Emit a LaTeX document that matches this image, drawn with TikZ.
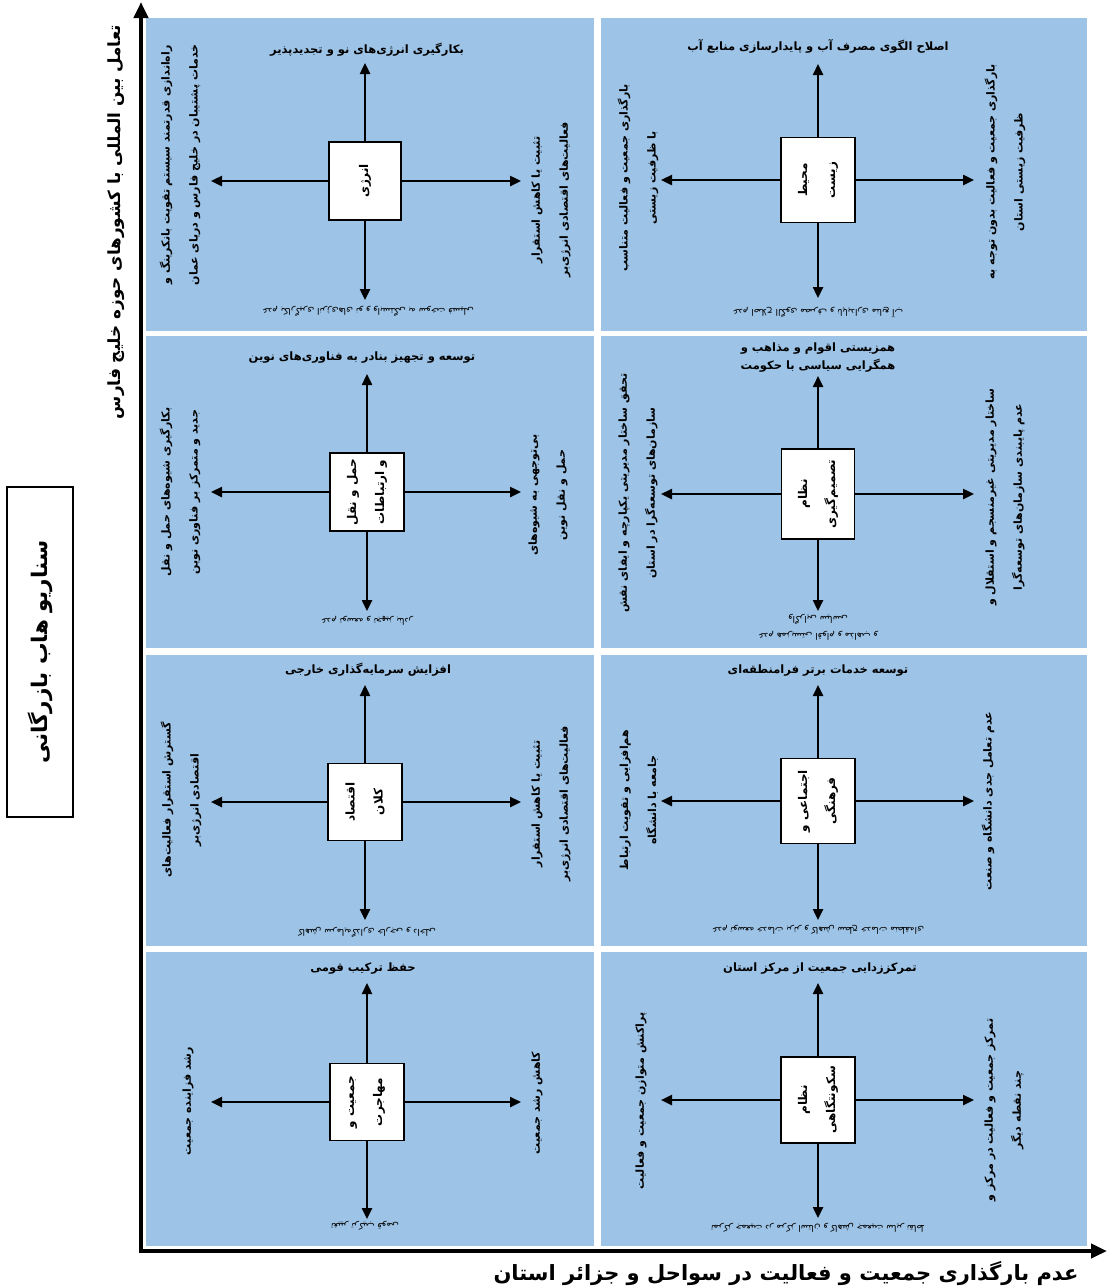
\documentclass[tikz,border=0pt]{standalone}
\usepackage{fontspec}
\usetikzlibrary{arrows.meta}
\newfontfamily\farsi[Script=Arabic]{DejaVu Sans}
\TeXXeTstate=1
\newcommand\fa[1]{\beginR #1\endR}
\definecolor{panelblue}{RGB}{157,195,230}
\tikzset{
 hub/.style={draw, line width=1.8pt, fill=white, rotate=90, inner sep=0pt, align=center, font=\farsi\bfseries\fontsize{12}{28}\selectfont},
 arr/.style={line width=2.4pt, -{Triangle[length=11pt,width=10pt]}},
 axisline/.style={line width=4.5pt, -{Triangle[length=16pt,width=14pt]}},
 toptxt/.style={font=\farsi\bfseries\fontsize{11.5}{18}\selectfont, align=center, inner sep=0pt},
 sidetxt/.style={font=\farsi\bfseries\fontsize{11}{28}\selectfont, align=center, rotate=90, inner sep=0pt},
 bottxt/.style={font=\farsi\fontsize{9}{17}\selectfont, align=center, rotate=180, inner sep=0pt},
}
\begin{document}
\begin{tikzpicture}[x=1pt,y=-1pt]
\useasboundingbox (0,0) rectangle (1112,1288);
% panel cells
\fill[panelblue] (146,18) rectangle (594,331);
\fill[panelblue] (601,18) rectangle (1087,331);
\fill[panelblue] (146,336) rectangle (594,648);
\fill[panelblue] (601,336) rectangle (1087,648);
\fill[panelblue] (146,655) rectangle (594,946);
\fill[panelblue] (601,655) rectangle (1087,946);
\fill[panelblue] (146,952) rectangle (594,1246);
\fill[panelblue] (601,952) rectangle (1087,1246);
% axes
\coordinate (O) at (139,1251);
\coordinate (ytop) at (141,2);
\coordinate (xend) at (1107,1251);
\draw[axisline] (141,1251) -- (ytop);
\draw[axisline] (O) -- (xend);
\node[rotate=90, inner sep=0pt, font=\farsi\bfseries\fontsize{16.8}{20}\selectfont] (ylab) at (116,222) {\fa{تعامل بین المللی با کشورهای حوزه خلیج فارس}};
\node[inner sep=0pt, font=\farsi\bfseries\fontsize{21}{24}\selectfont] (xlab) at (786,1273) {\fa{عدم بارگذاری جمعیت و فعالیت در سواحل و جزائر استان}};
\node[draw, line width=1.3pt, rotate=90, minimum width=330pt, minimum height=66pt, font=\farsi\bfseries\fontsize{21.5}{26}\selectfont] (title) at (40,652) {\fa{سناریو هاب بازرگانی}};

% ---------- cell 1 : energy
\node[hub, minimum width=78pt, minimum height=72pt] (b1) at (365,181) {\fa{انرژی}};
\coordinate (c1u) at (365,63); \coordinate (c1d) at (365,300);
\coordinate (c1l) at (211,181); \coordinate (c1r) at (521,181);
\draw[arr] (b1) -- (c1u); \draw[arr] (b1) -- (c1d);
\draw[arr] (b1) -- (c1l); \draw[arr] (b1) -- (c1r);
\node[toptxt] (t1) at (367,50) {\fa{بکارگیری انرژی‌های نو و تجدیدپذیر}};
\node[sidetxt] (l1) at (180,165) {\fa{راه‌اندازی قدرتمند سیستم تقویت بانکرینگ و}\\\fa{خدمات پشتیبان در خلیج فارس و دریای عمان}};
\node[sidetxt] (r1) at (551,200) {\fa{تثبیت یا کاهش استقرار}\\\fa{فعالیت‌های اقتصادی انرژی‌بر}};
\node[bottxt] (d1) at (368,311) {\fa{عدم بکارگیری انرژی‌های نو و وابستگی به سوخت فسیلی}};

% ---------- cell 2 : environment
\node[hub, minimum width=85pt, minimum height=74pt] (b2) at (818,180) {\fa{محیط}\\\fa{زیست}};
\coordinate (c2u) at (818,64); \coordinate (c2d) at (818,298);
\coordinate (c2l) at (661,180); \coordinate (c2r) at (974,180);
\draw[arr] (b2) -- (c2u); \draw[arr] (b2) -- (c2d);
\draw[arr] (b2) -- (c2l); \draw[arr] (b2) -- (c2r);
\node[toptxt] (t2) at (818,46) {\fa{اصلاح الگوی مصرف آب و پایدارسازی منابع آب}};
\node[sidetxt] (l2) at (638,178) {\fa{بارگذاری جمعیت و فعالیت متناسب}\\\fa{با ظرفیت زیستی}};
\node[sidetxt] (r2) at (1005,172) {\fa{بارگذاری جمعیت و فعالیت بدون توجه به}\\\fa{ظرفیت زیستی استان}};
\node[bottxt] (d2) at (818,313) {\fa{عدم اصلاح الگوی مصرف و ناپایداری منابع آب}};

% ---------- cell 3 : transport
\node[hub, minimum width=78pt, minimum height=74pt] (b3) at (367,492) {\fa{حمل و نقل}\\\fa{و ارتباطات}};
\coordinate (c3u) at (367,374); \coordinate (c3d) at (367,611);
\coordinate (c3l) at (211,492); \coordinate (c3r) at (521,492);
\draw[arr] (b3) -- (c3u); \draw[arr] (b3) -- (c3d);
\draw[arr] (b3) -- (c3l); \draw[arr] (b3) -- (c3r);
\node[toptxt] (t3) at (362,358) {\fa{توسعه و تجهیز بنادر به فناوری‌های نوین}};
\node[sidetxt] (l3) at (180,492) {\fa{بکارگیری شیوه‌های حمل و نقل}\\\fa{جدید و متمرکز بر فناوری نوین}};
\node[sidetxt] (r3) at (548,495) {\fa{بی‌توجهی به شیوه‌های}\\\fa{حمل و نقل نوین}};
\node[bottxt] (d3) at (367,621) {\fa{عدم توسعه و تجهیز بنادر}};

% ---------- cell 4 : decision system
\node[hub, minimum width=90pt, minimum height=73pt] (b4) at (818,494) {\fa{نظام}\\\fa{تصمیم‌گیری}};
\coordinate (c4u) at (818,376); \coordinate (c4d) at (818,611);
\coordinate (c4l) at (661,494); \coordinate (c4r) at (974,494);
\draw[arr] (b4) -- (c4u); \draw[arr] (b4) -- (c4d);
\draw[arr] (b4) -- (c4l); \draw[arr] (b4) -- (c4r);
\node[toptxt] (t4) at (818,358) {\fa{همزیستی اقوام و مذاهب و}\\\fa{همگرایی سیاسی با حکومت}};
\node[sidetxt] (l4) at (638,493) {\fa{تحقق ساختار مدیریتی یکپارچه و ایفای نقش}\\\fa{سازمان‌های توسعه‌گرا در استان}};
\node[sidetxt] (r4) at (1005,497) {\fa{ساختار مدیریتی غیرمنسجم و استقلال و}\\\fa{عدم پایبندی سازمان‌های توسعه‌گرا}};
\node[bottxt] (d4) at (818,627) {\fa{عدم همزیستی اقوام و مذاهب و}\\\fa{واگرایی سیاسی}};

% ---------- cell 5 : macro economy
\node[hub, minimum width=77pt, minimum height=74pt] (b5) at (365,802) {\fa{اقتصاد}\\\fa{کلان}};
\coordinate (c5u) at (365,685); \coordinate (c5d) at (365,920);
\coordinate (c5l) at (211,802); \coordinate (c5r) at (521,802);
\draw[arr] (b5) -- (c5u); \draw[arr] (b5) -- (c5d);
\draw[arr] (b5) -- (c5l); \draw[arr] (b5) -- (c5r);
\node[toptxt] (t5) at (368,670) {\fa{افزایش سرمایه‌گذاری خارجی}};
\node[sidetxt] (l5) at (181,800) {\fa{گسترش استقرار فعالیت‌های}\\\fa{اقتصادی انرژی‌بر}};
\node[sidetxt] (r5) at (551,804) {\fa{تثبیت یا کاهش استقرار}\\\fa{فعالیت‌های اقتصادی انرژی‌بر}};
\node[bottxt] (d5) at (367,932) {\fa{کاهش سرمایه‌گذاری خارجی و داخلی}};

% ---------- cell 6 : social and cultural
\node[hub, minimum width=85pt, minimum height=74pt] (b6) at (818,801) {\fa{اجتماعی و}\\\fa{فرهنگی}};
\coordinate (c6u) at (818,685); \coordinate (c6d) at (818,920);
\coordinate (c6l) at (661,801); \coordinate (c6r) at (974,801);
\draw[arr] (b6) -- (c6u); \draw[arr] (b6) -- (c6d);
\draw[arr] (b6) -- (c6l); \draw[arr] (b6) -- (c6r);
\node[toptxt] (t6) at (818,671) {\fa{توسعه خدمات برتر فرامنطقه‌ای}};
\node[sidetxt] (l6) at (639,800) {\fa{هم‌افزایی و تقویت ارتباط}\\\fa{جامعه با دانشگاه}};
\node[sidetxt] (r6) at (988,801) {\fa{عدم تعامل جدی دانشگاه و صنعت}};
\node[bottxt] (d6) at (818,930) {\fa{عدم توسعه خدمات برتر و کاهش سطح خدمات منطقه‌ای}};

% ---------- cell 7 : population and migration
\node[hub, minimum width=77pt, minimum height=74pt] (b7) at (367,1102) {\fa{جمعیت و}\\\fa{مهاجرت}};
\coordinate (c7u) at (367,983); \coordinate (c7d) at (367,1219);
\coordinate (c7l) at (211,1102); \coordinate (c7r) at (521,1102);
\draw[arr] (b7) -- (c7u); \draw[arr] (b7) -- (c7d);
\draw[arr] (b7) -- (c7l); \draw[arr] (b7) -- (c7r);
\node[toptxt] (t7) at (363,969) {\fa{حفظ ترکیب قومی}};
\node[sidetxt] (l7) at (188,1101) {\fa{رشد فزاینده جمعیت}};
\node[sidetxt] (r7) at (537,1103) {\fa{کاهش رشد جمعیت}};
\node[bottxt] (d7) at (365,1226) {\fa{تغییر ترکیب قومی}};

% ---------- cell 8 : settlement system
\node[hub, minimum width=86pt, minimum height=74pt] (b8) at (818,1100) {\fa{نظام}\\\fa{سکونتگاهی}};
\coordinate (c8u) at (818,983); \coordinate (c8d) at (818,1218);
\coordinate (c8l) at (661,1100); \coordinate (c8r) at (974,1100);
\draw[arr] (b8) -- (c8u); \draw[arr] (b8) -- (c8d);
\draw[arr] (b8) -- (c8l); \draw[arr] (b8) -- (c8r);
\node[toptxt] (t8) at (820,969) {\fa{تمرکززدایی جمعیت از مرکز استان}};
\node[sidetxt] (l8) at (641,1101) {\fa{پراکنش متوازن جمعیت و فعالیت}};
\node[sidetxt] (r8) at (1004,1110) {\fa{تمرکز جمعیت و فعالیت در مرکز و}\\\fa{چند نقطه دیگر}};
\node[bottxt] (d8) at (818,1228) {\fa{تمرکز جمعیت در مرکز استان و کاهش جمعیت سایر نقاط}};
\end{tikzpicture}
\end{document}
